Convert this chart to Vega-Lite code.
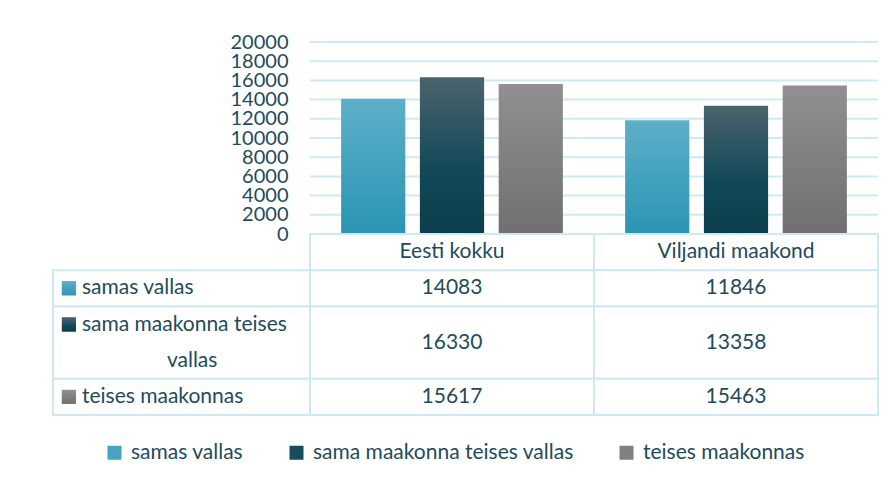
{
  "$schema": "https://vega.github.io/schema/vega-lite/v6.json",
  "padding": {"left": 26, "top": 32, "right": 13, "bottom": 18},
  "spacing": 0,
  "bounds": "flush",
  "datasets": {
    "main": [
      {"region": "Eesti kokku", "series": "samas vallas", "value": 14083},
      {"region": "Eesti kokku", "series": "sama maakonna teises vallas", "value": 16330},
      {"region": "Eesti kokku", "series": "teises maakonnas", "value": 15617},
      {"region": "Viljandi maakond", "series": "samas vallas", "value": 11846},
      {"region": "Viljandi maakond", "series": "sama maakonna teises vallas", "value": 13358},
      {"region": "Viljandi maakond", "series": "teises maakonnas", "value": 15463}
    ],
    "rows": [
      {"series": "samas vallas", "r": "r1", "r2": "r1", "line1": "samas vallas", "line2": ""},
      {"series": "sama maakonna teises vallas", "r": "r2a", "r2": "r2b", "line1": "sama maakonna teises", "line2": "vallas"},
      {"series": "teises maakonnas", "r": "r3", "r2": "r3", "line1": "teises maakonnas", "line2": ""}
    ],
    "regions": [
      {"region": "Eesti kokku"},
      {"region": "Viljandi maakond"}
    ],
    "grid": [
      {"v": 0}, {"v": 2000}, {"v": 4000}, {"v": 6000}, {"v": 8000}, {"v": 10000},
      {"v": 12000}, {"v": 14000}, {"v": 16000}, {"v": 18000}, {"v": 20000}
    ]
  },
  "config": {
    "view": {"stroke": null},
    "font": "Lato",
    "axisY": {"labelOverlap": false, "labelFont": "Lato", "labelFontSize": 20, "labelColor": "#1e4b5a"},
    "text": {"font": "Lato", "fontSize": 21, "color": "#1e4b5a"},
    "legend": {
      "labelFont": "Lato",
      "labelFontSize": 21,
      "labelColor": "#1e4b5a",
      "labelLimit": 0,
      "symbolType": "square",
      "symbolSize": 196,
      "symbolStrokeWidth": 0,
      "symbolOpacity": 1,
      "columnPadding": 42,
      "labelOffset": 6,
      "padding": 0
    }
  },
  "vconcat": [
    {
      "width": 852,
      "height": 192,
      "resolve": {"axis": {"y": "shared"}},
      "layer": [
        {
          "data": {"name": "grid"},
          "mark": {"type": "rule", "color": "#cfeaf3", "strokeWidth": 2},
          "encoding": {
            "y": {"field": "v", "type": "quantitative", "scale": {"domain": [0, 20000], "nice": false},
                  "axis": {"values": [0,2000,4000,6000,8000,10000,12000,14000,16000,18000,20000], "format": "d", "grid": false, "domain": false, "ticks": false, "labelOverlap": false, "labelPadding": 22, "offset": -284, "title": null}},
            "x": {"datum": "Eesti kokku", "bandPosition": 0, "type": "nominal",
                  "scale": {"domain": ["lbl", "Eesti kokku", "Viljandi maakond"], "paddingInner": 0, "paddingOuter": 0}, "axis": null},
            "x2": {"datum": "Viljandi maakond", "bandPosition": 1}
          }
        },
        {
          "data": {"name": "main"},
          "mark": {"type": "bar"},
          "encoding": {
            "x": {"field": "region", "type": "nominal"},
            "xOffset": {"field": "series", "type": "nominal", "sort": ["samas vallas", "sama maakonna teises vallas", "teises maakonnas"],
                        "scale": {"paddingInner": 0.185, "paddingOuter": 0.395}},
            "y": {"field": "value", "type": "quantitative",
                  "axis": {"values": [0,2000,4000,6000,8000,10000,12000,14000,16000,18000,20000], "format": "d", "grid": false, "domain": false, "ticks": false, "labelOverlap": false, "labelPadding": 22, "offset": -284, "title": null}},
            "fill": {
              "condition": [
                {"test": "datum.series == 'samas vallas'", "value": {"gradient": "linear", "x1": 0, "y1": 0, "x2": 0, "y2": 1, "stops": [{"offset": 0, "color": "#5eafc8"}, {"offset": 1, "color": "#2a95b3"}]}},
                {"test": "datum.series == 'sama maakonna teises vallas'", "value": {"gradient": "linear", "x1": 0, "y1": 0, "x2": 0, "y2": 1, "stops": [{"offset": 0, "color": "#4b636d"}, {"offset": 0.6, "color": "#124858"}, {"offset": 1, "color": "#0b3e4c"}]}}
              ],
              "value": {"gradient": "linear", "x1": 0, "y1": 0, "x2": 0, "y2": 1, "stops": [{"offset": 0, "color": "#909090"}, {"offset": 1, "color": "#707070"}]}
            }
          }
        }
      ]
    },
    {
      "width": 852,
      "height": 181,
      "encoding": {
        "x": {"type": "nominal", "scale": {"domain": ["lbl", "Eesti kokku", "Viljandi maakond"], "paddingInner": 0, "paddingOuter": 0}, "axis": null},
        "y": {"type": "nominal", "scale": {"domain": ["h", "r1", "r2a", "r2b", "r3"], "paddingInner": 0, "paddingOuter": 0}, "axis": null}
      },
      "layer": [
        {
          "data": {"name": "regions"},
          "mark": {"type": "rect", "fill": "white", "stroke": "#cfe9f2", "strokeWidth": 2},
          "encoding": {
            "x": {"field": "region", "type": "nominal"},
            "y": {"datum": "h", "type": "nominal"}
          }
        },
        {
          "data": {"name": "regions"},
          "mark": {"type": "text"},
          "encoding": {
            "x": {"field": "region", "type": "nominal"},
            "y": {"datum": "h", "type": "nominal"},
            "text": {"field": "region"}
          }
        },
        {
          "data": {"name": "rows"},
          "mark": {"type": "rect", "fill": "white", "stroke": "#cfe9f2", "strokeWidth": 2},
          "encoding": {
            "x": {"datum": "lbl", "type": "nominal", "bandPosition": 0.095},
            "x2": {"datum": "lbl", "bandPosition": 1},
            "y": {"field": "r", "type": "nominal", "bandPosition": 0},
            "y2": {"field": "r2", "bandPosition": 1}
          }
        },
        {
          "data": {"name": "main"},
          "transform": [{"lookup": "series", "from": {"data": {"name": "rows"}, "key": "series", "fields": ["r", "r2"]}}],
          "mark": {"type": "rect", "fill": "white", "stroke": "#cfe9f2", "strokeWidth": 2},
          "encoding": {
            "x": {"field": "region", "type": "nominal"},
            "y": {"field": "r", "type": "nominal", "bandPosition": 0},
            "y2": {"field": "r2", "bandPosition": 1}
          }
        },
        {
          "data": {"name": "rows"},
          "mark": {"type": "square", "size": 196, "opacity": 1},
          "encoding": {
            "x": {"datum": "lbl", "type": "nominal", "bandPosition": 0.151},
            "y": {"field": "r", "type": "nominal"},
            "color": {"field": "series", "type": "nominal",
              "scale": {"domain": ["samas vallas", "sama maakonna teises vallas", "teises maakonnas"], "range": ["#45a4c0", "#1a4d5c", "#808080"]},
              "legend": {"orient": "none", "direction": "horizontal", "title": null, "legendX": 78, "legendY": 400}}
          }
        },
        {
          "data": {"name": "rows"},
          "mark": {"type": "square", "size": 196, "opacity": 1},
          "encoding": {
            "x": {"datum": "lbl", "type": "nominal", "bandPosition": 0.151},
            "y": {"field": "r", "type": "nominal"},
            "fill": {
              "condition": [
                {"test": "datum.series == 'samas vallas'", "value": {"gradient": "linear", "x1": 0, "y1": 0, "x2": 0, "y2": 1, "stops": [{"offset": 0, "color": "#5eafc8"}, {"offset": 1, "color": "#2a95b3"}]}},
                {"test": "datum.series == 'sama maakonna teises vallas'", "value": {"gradient": "linear", "x1": 0, "y1": 0, "x2": 0, "y2": 1, "stops": [{"offset": 0, "color": "#4b636d"}, {"offset": 0.6, "color": "#124858"}, {"offset": 1, "color": "#0b3e4c"}]}}
              ],
              "value": {"gradient": "linear", "x1": 0, "y1": 0, "x2": 0, "y2": 1, "stops": [{"offset": 0, "color": "#909090"}, {"offset": 1, "color": "#707070"}]}
            }
          }
        },
        {
          "data": {"name": "rows"},
          "mark": {"type": "text", "align": "left"},
          "encoding": {
            "x": {"datum": "lbl", "type": "nominal", "bandPosition": 0.197},
            "y": {"field": "r", "type": "nominal"},
            "text": {"field": "line1"}
          }
        },
        {
          "data": {"name": "rows"},
          "transform": [{"filter": "datum.line2 != ''"}],
          "mark": {"type": "text", "align": "center"},
          "encoding": {
            "x": {"datum": "lbl", "type": "nominal", "bandPosition": 0.585},
            "y": {"field": "r2", "type": "nominal"},
            "text": {"field": "line2"}
          }
        },
        {
          "data": {"name": "main"},
          "transform": [
            {"lookup": "series", "from": {"data": {"name": "rows"}, "key": "series", "fields": ["r", "r2"]}},
            {"filter": "datum.r == datum.r2"}
          ],
          "mark": {"type": "text"},
          "encoding": {
            "x": {"field": "region", "type": "nominal"},
            "y": {"field": "r", "type": "nominal"},
            "text": {"field": "value", "type": "quantitative", "format": "d"}
          }
        },
        {
          "data": {"name": "main"},
          "transform": [
            {"lookup": "series", "from": {"data": {"name": "rows"}, "key": "series", "fields": ["r", "r2"]}},
            {"filter": "datum.r != datum.r2"}
          ],
          "mark": {"type": "text"},
          "encoding": {
            "x": {"field": "region", "type": "nominal"},
            "y": {"field": "r2", "type": "nominal", "bandPosition": 0},
            "text": {"field": "value", "type": "quantitative", "format": "d"}
          }
        }
      ]
    }
  ]
}
